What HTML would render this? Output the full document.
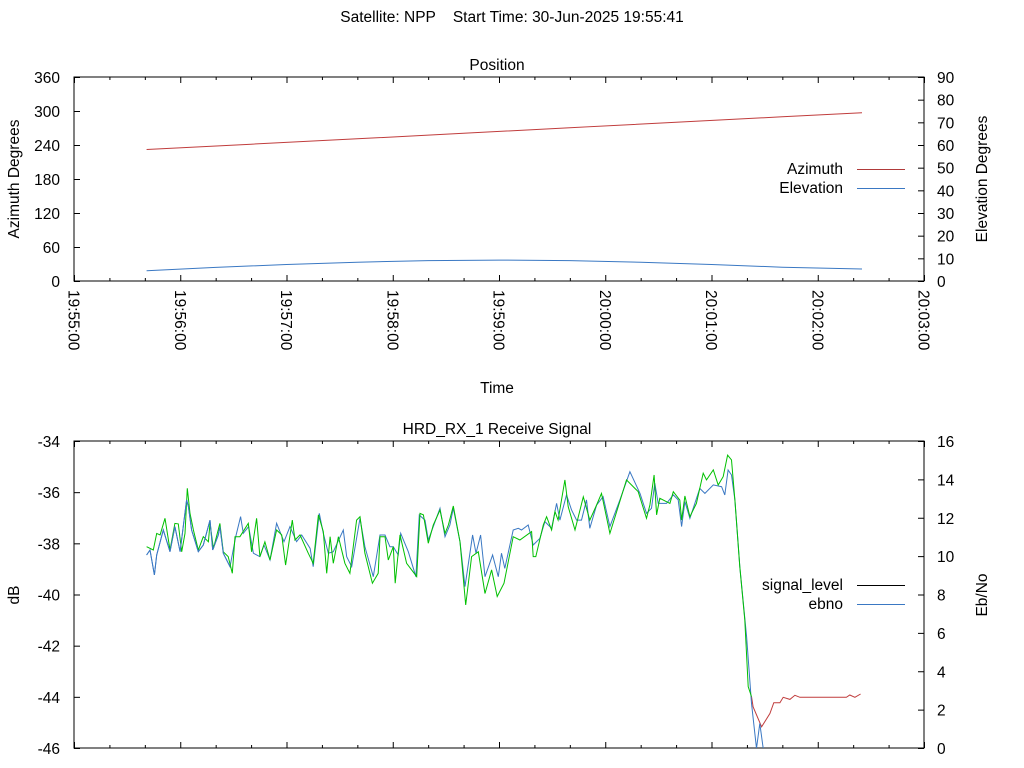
<!DOCTYPE html>
<html><head><meta charset="utf-8"><style>
body{margin:0;background:#fff}
svg{display:block;font-family:"Liberation Sans",sans-serif}
</style></head><body>
<svg id="c" width="1024" height="768" viewBox="0 0 1024 768" xmlns="http://www.w3.org/2000/svg">
<text x="512" y="22" font-size="15.5" text-anchor="middle" xml:space="preserve">Satellite: NPP    Start Time: 30-Jun-2025 19:55:41</text>
<g id="top"></g>
<g id="bot"></g>
</svg>
<script>
// ---- data (seconds after 19:55:00) ----
const xTickLabels = ["19:55:00","19:56:00","19:57:00","19:58:00","19:59:00","20:00:00","20:01:00","20:02:00","20:03:00"];
const azLeftTicks = [0,60,120,180,240,300,360];
const elRightTicks = [0,10,20,30,40,50,60,70,80,90];
const dbLeftTicks = [-46,-44,-42,-40,-38,-36,-34];
const ebnoRightTicks = [0,2,4,6,8,10,12,14,16];

const azTimes = [41,100,160,220,280,340,400,445];
const azValues = [232,241.5,251,260.7,270.5,280,289.7,297];
const elTimes = [41,80,120,160,200,240,280,320,360,400,445];
const elValues = [4.5,6.0,7.3,8.3,9.0,9.2,9.0,8.3,7.3,6.1,5.3];

const sigTimes = [41.0,44.8,46.7,48.6,51.4,54.2,57.0,58.9,60.8,62.7,64.0,65.5,67.4,70.2,73.0,75.9,76.8,78.7,82.4,84.3,87.1,89.4,90.9,93.7,98.4,100.3,103.1,105.0,107.8,110.7,114.4,117.3,119.5,123.3,124.8,127.6,132.3,135.1,138.0,140.8,142.7,144.6,146.4,149.3,153.0,155.8,159.6,161.5,164.3,168.5,171.8,172.8,175.6,177.5,180.3,181.4,184.1,187.8,193.5,195.4,197.3,200.1,202.9,206.7,209.5,211.4,214.2,218.0,221.2,224.5,228.3,232.1,235.8,239.0,242.8,248.0,251.8,258.4,259.3,260.8,265.0,266.9,269.7,271.6,273.4,277.2,279.1,282.9,287.6,291.3,295.1,297.9,302.6,312.0,318.6,323.3,325.2,327.6,329.0,330.8,336.5,338.4,342.1,343.1,345.0,347.8,351.5,355.3,357.2,361.0,363.8,366.6,369.1,371.3,373.2,376.0,378.8,380.7,382.6,383.5,388.3,393.0,395.2,398.6,400.5,404.3,407.1,409.9,436.2,438.1,441.0,444.2];
const sigValues = [-38.13,-38.26,-37.61,-37.67,-37.02,-38.26,-37.22,-37.24,-38.33,-37.61,-35.85,-36.83,-37.48,-38.26,-37.74,-37.94,-37.22,-38.20,-37.22,-38.33,-38.52,-39.17,-37.74,-37.74,-37.22,-38.33,-37.02,-38.52,-37.94,-38.65,-37.48,-37.67,-38.85,-37.09,-37.87,-37.67,-38.39,-38.78,-36.89,-37.54,-39.17,-37.74,-38.78,-37.74,-38.78,-39.17,-37.09,-36.96,-38.39,-39.56,-39.17,-37.74,-37.74,-38.65,-38.13,-39.56,-37.67,-38.78,-39.30,-36.83,-36.89,-38.00,-37.28,-36.70,-37.61,-37.28,-36.54,-37.94,-40.41,-38.52,-38.33,-39.96,-39.04,-40.08,-39.56,-37.74,-37.87,-37.54,-38.52,-38.52,-37.28,-36.96,-37.48,-36.76,-37.09,-35.52,-36.57,-37.48,-36.18,-37.09,-36.50,-36.05,-37.61,-35.52,-35.98,-37.02,-36.50,-35.33,-36.89,-36.24,-36.44,-35.98,-36.31,-37.09,-36.15,-36.96,-36.44,-35.26,-35.52,-35.13,-35.72,-35.39,-34.55,-34.74,-36.31,-38.91,-41.00,-43.60,-43.99,-44.39,-45.17,-44.65,-44.23,-44.23,-44.02,-44.10,-43.94,-44.02,-44.02,-43.93,-44.02,-43.89];
const lockLostTime = 383.0;

const ebTimes = [41.0,42.9,45.4,46.7,50.4,54.2,57.0,59.9,63.6,64.6,66.4,70.2,73.0,76.8,78.3,81.5,82.4,84.3,88.1,91.3,94.1,95.6,98.6,101.3,105.0,107.3,110.7,114.4,118.6,122.0,125.7,128.6,133.3,135.1,138.5,140.8,143.6,146.4,152.1,154.0,156.8,161.5,164.3,169.0,172.8,175.6,178.4,180.3,183.1,184.5,188.8,193.1,195.0,198.2,200.1,206.7,209.5,212.3,214.2,218.0,220.8,225.1,227.0,229.6,232.1,236.4,239.6,241.4,243.3,248.0,250.9,252.7,256.5,259.3,263.1,265.9,269.7,272.5,274.4,278.1,281.0,283.8,286.6,289.4,291.3,295.1,298.8,302.6,308.3,313.9,319.6,323.3,326.1,328.0,329.9,334.6,338.4,341.2,343.1,345.0,347.8,353.4,356.3,361.0,365.7,367.5,369.4,371.3,373.2,376.0,379.8,382.6,385.4,387.3,389.2,390.5];
const ebValues = [10.06,10.32,9.02,10.06,11.36,10.23,11.54,10.23,12.93,12.58,11.36,10.23,10.58,11.88,10.32,11.10,11.54,10.15,9.45,11.01,12.06,11.19,11.54,10.15,9.97,10.58,9.80,11.71,10.75,11.54,10.75,11.10,10.41,9.45,12.23,11.19,10.15,10.23,11.36,9.97,9.45,11.97,10.49,8.93,11.10,11.10,10.49,10.49,10.06,11.19,10.23,8.93,12.14,11.88,10.84,12.49,11.01,11.62,12.49,10.75,8.41,11.10,10.15,11.10,8.93,10.06,8.93,10.15,9.36,11.36,11.45,11.36,11.62,10.58,10.93,11.80,11.45,12.75,11.88,13.19,12.40,11.88,11.88,12.93,11.45,12.66,13.10,11.54,12.93,14.40,13.27,12.23,12.49,13.80,12.75,12.75,13.19,12.93,11.54,12.84,11.97,13.53,13.27,13.71,13.62,13.19,14.49,14.23,12.93,9.45,5.80,2.33,-0.02,1.28,-0.02,-1.0];

// ---- drawing ----
const NS="http://www.w3.org/2000/svg";
const FS=15.5;
function mk(tag, attrs, parent, text){const e=document.createElementNS(NS,tag);for(const k in attrs)e.setAttribute(k,attrs[k]);if(text!==undefined)e.textContent=text;parent.appendChild(e);return e;}
const X0=74,X1=924,T0=0,T1=480;
const sx=t=>X0+(t-T0)/(T1-T0)*(X1-X0);

function panel(g, top, bottom, lTicks, lMin, lMax, rTicks, rMin, rMax, showXLabels){
  const syL=v=>bottom-(v-lMin)/(lMax-lMin)*(bottom-top);
  const syR=v=>bottom-(v-rMin)/(rMax-rMin)*(bottom-top);
  const ax=mk('g',{},g);
  
  
  mk('rect',{x:X0,y:top,width:X1-X0,height:bottom-top,fill:'none',stroke:'#000','stroke-width':1},ax);
  for(let s=0;s<=480;s+=20){
    const x=sx(s)+0.5, major=s%60===0, L=major?6:3;
    mk('line',{x1:x,x2:x,y1:bottom,y2:bottom-L,stroke:'#000'},ax);
    mk('line',{x1:x,x2:x,y1:top,y2:top+L,stroke:'#000'},ax);
  }
  lTicks.forEach(v=>{const y=syL(v)+0.5;
    mk('line',{x1:X0,x2:X0+6,y1:y,y2:y,stroke:'#000'},ax);
    const t=mk('text',{x:60,y:y+5.5,'font-size':FS,'text-anchor':'end'},ax,String(v));
    
    });
  rTicks.forEach(v=>{const y=syR(v)+0.5;
    mk('line',{x1:X1-6,x2:X1,y1:y,y2:y,stroke:'#000'},ax);
    const t=mk('text',{x:937,y:y+5.5,'font-size':FS},ax,String(v));
    
    });
  if(showXLabels){
    xTickLabels.forEach((lab,i)=>{const x=sx(i*60);
      const t=mk('text',{x:0,y:0,'font-size':FS,transform:`translate(${x-5.5},290) rotate(90)`},ax,lab);
      
      });
  }
  return {syL,syR};
}
function line(g, times, vals, sy, color, name, top, bottom){
  const d=times.map((t,i)=>(i?'L':'M')+sx(t).toFixed(1)+','+sy(vals[i]).toFixed(1)).join(' ');
  const p=mk('path',{d,fill:'none',stroke:color,'stroke-width':1,'clip-path':'url(#clip'+top+')'},g);
  
  
  return p;
}
function clip(top,bottom){const s=document.getElementById('c');
  let defs=s.querySelector('defs')||mk('defs',{},s);
  const cp=mk('clipPath',{id:'clip'+top},defs);mk('rect',{x:X0,y:top,width:X1-X0,height:bottom-top},cp);}

// top panel
const gt=document.getElementById('top');
clip(77,281);
const A=panel(gt,77,281,azLeftTicks,0,360,elRightTicks,0,90,true);
mk('text',{x:497,y:70,'font-size':FS,'text-anchor':'middle',},gt,'Position');
mk('text',{x:497,y:393,'font-size':FS,'text-anchor':'middle',},gt,'Time');
mk('text',{x:0,y:0,'font-size':FS,'text-anchor':'middle',transform:'translate(19,179) rotate(-90)',},gt,'Azimuth Degrees');
mk('text',{x:0,y:0,'font-size':FS,'text-anchor':'middle',transform:'translate(987,179) rotate(-90)',},gt,'Elevation Degrees');
line(gt,azTimes,azValues,A.syL,'#c03c3c','azimuth-line',77,281);
line(gt,elTimes,elValues,A.syR,'#3a78c3','elevation-line',77,281);
mk('text',{x:843,y:174,'font-size':FS,'text-anchor':'end',},gt,'Azimuth');
mk('line',{x1:857,x2:905,y1:169.5,y2:169.5,stroke:'#b03a3a'},gt);
mk('text',{x:843,y:193,'font-size':FS,'text-anchor':'end',},gt,'Elevation');
mk('line',{x1:857,x2:905,y1:188.5,y2:188.5,stroke:'#3a78c3'},gt);

// bottom panel
const gb=document.getElementById('bot');
clip(441,748);
const B=panel(gb,441,748,dbLeftTicks,-46,-34,ebnoRightTicks,0,16,false);
mk('text',{x:497,y:434,'font-size':FS,'text-anchor':'middle',},gb,'HRD_RX_1 Receive Signal');
mk('text',{x:0,y:0,'font-size':FS,'text-anchor':'middle',transform:'translate(19,595) rotate(-90)',},gb,'dB');
mk('text',{x:0,y:0,'font-size':FS,'text-anchor':'middle',transform:'translate(987,595) rotate(-90)',},gb,'Eb/No');
const lockT=[],lockV=[],unT=[],unV=[];
const firstUn=sigTimes.findIndex(x=>x>lockLostTime);
sigTimes.forEach((t,i)=>{ if(t<=lockLostTime){lockT.push(t);lockV.push(sigValues[i]);} if(i>=firstUn-1){unT.push(t);unV.push(sigValues[i]);} });
line(gb,unT,unV,B.syL,'#c03c3c','signal-unlocked-line',441,748);
line(gb,ebTimes,ebValues,B.syR,'#3a78c3','ebno-line',441,748);
line(gb,lockT,lockV,B.syL,'#00c000','signal-locked-line',441,748);
line(gb,ebTimes.filter(t=>t<90),ebValues.filter((v,i)=>ebTimes[i]<90),B.syR,'#3a78c3','ebno-line-start',441,748);
mk('text',{x:843,y:590,'font-size':FS,'text-anchor':'end',},gb,'signal_level');
mk('line',{x1:857,x2:905,y1:585.5,y2:585.5,stroke:'#000'},gb);
mk('text',{x:843,y:609,'font-size':FS,'text-anchor':'end',},gb,'ebno');
mk('line',{x1:857,x2:905,y1:604.5,y2:604.5,stroke:'#3a78c3'},gb);
</script>
</body></html>
